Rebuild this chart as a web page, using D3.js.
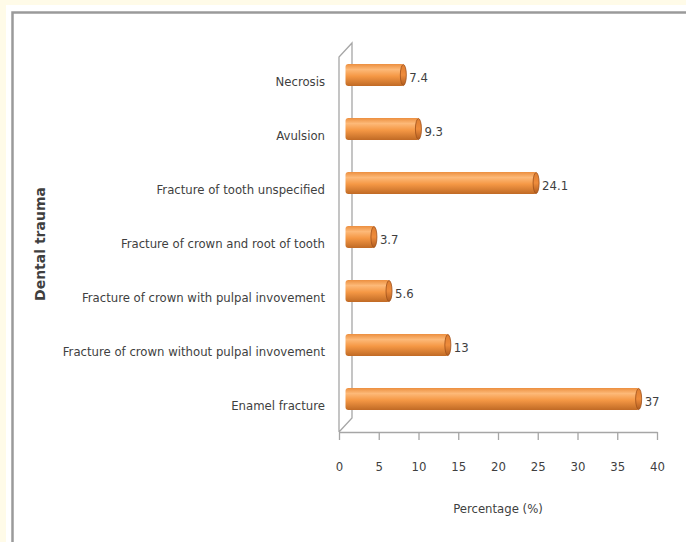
<!DOCTYPE html>
<html>
<head>
<meta charset="utf-8">
<script src="https://cdn.jsdelivr.net/npm/d3@7"></script>
<style>
  body { margin: 0; background: #fffbe8; }
  svg text { fill: #3f3f3f; font-family: "DejaVu Sans Condensed", "Liberation Sans Narrow", sans-serif; }
</style>
</head>
<body>
<div id="chart"></div>
<script>
// data, top to bottom as in the picture
var categories = ["Necrosis", "Avulsion", "Fracture of tooth unspecified ",
  "Fracture of crown and root of tooth", "Fracture of crown with pulpal invovement",
  "Fracture of crown without pulpal invovement", "Enamel fracture"];
var values = [7.4, 9.3, 24.1, 3.7, 5.6, 13, 37];
var xTicks = [0, 5, 10, 15, 20, 25, 30, 35, 40];

var W = 686, H = 542;
var svg = d3.select("#chart").append("svg")
  .attr("width", W).attr("height", H);

// panel
svg.append("rect").attr("x", 6).attr("y", 5).attr("width", W).attr("height", H)
  .attr("fill", "#ffffff");
svg.append("path").attr("d", "M12.5," + H + "V12.5H" + W)
  .attr("fill", "none").attr("stroke", "#9a9a9a").attr("stroke-width", 2.5);

var defs = svg.append("defs");
var grad = defs.append("linearGradient").attr("id", "barGrad")
  .attr("x1", 0).attr("y1", 0).attr("x2", 0).attr("y2", 1);
grad.append("stop").attr("offset", "0%").attr("stop-color", "#ec8f3f");
grad.append("stop").attr("offset", "25%").attr("stop-color", "#fdb978");
grad.append("stop").attr("offset", "55%").attr("stop-color", "#f59845");
grad.append("stop").attr("offset", "100%").attr("stop-color", "#c06a25");
var capGrad = defs.append("linearGradient").attr("id", "capGrad")
  .attr("x1", 0).attr("y1", 0).attr("x2", 0).attr("y2", 1);
capGrad.append("stop").attr("offset", "0%").attr("stop-color", "#df7e30");
capGrad.append("stop").attr("offset", "50%").attr("stop-color", "#ee8c3c");
capGrad.append("stop").attr("offset", "100%").attr("stop-color", "#b05c1e");

var x = d3.scaleLinear().domain([0, 40]).range([339, 657]);
var y = d3.scaleBand().domain(categories).range([55, 433]);
var depthX = 13, depthY = -14;
var barH = 22;

// side wall (3d)
var x0 = x(0), yTop = 57, yBot = 432;
svg.append("path")
  .attr("d", "M" + x0 + "," + yBot + "V" + yTop + "L" + (x0 + depthX) + "," + (yTop + depthY) +
    "V" + (yBot + depthY) + "L" + x0 + "," + yBot)
  .attr("fill", "none").attr("stroke", "#a6a6a6").attr("stroke-width", 1.3);

// x axis
var xAxis = svg.append("g")
  .attr("transform", "translate(0," + yBot + ")")
  .call(d3.axisBottom(x).tickValues(xTicks).tickSize(8).tickSizeOuter(0).tickPadding(22));
xAxis.selectAll("line, path").attr("stroke", "#a6a6a6").attr("stroke-width", 1.3);
xAxis.selectAll("text").style("font-size", "13px").attr("fill", "#3f3f3f");

// category labels
var yAxis = svg.append("g")
  .attr("transform", "translate(" + x0 + ",0)")
  .call(d3.axisLeft(y).tickSize(0).tickPadding(14));
yAxis.select(".domain").remove();
yAxis.selectAll("text").style("font-size", "13px").attr("fill", "#3f3f3f");

// bars as cylinders
var bars = svg.append("g").selectAll("g").data(values).enter().append("g")
  .attr("transform", function(d, i) {
    return "translate(" + (depthX / 2) + "," + (y(categories[i]) + y.bandwidth() / 2 + depthY / 2 - barH / 2) + ")";
  });
bars.append("rect")
  .attr("x", function(d) { return x(0); })
  .attr("width", function(d) { return x(d) - x(0); })
  .attr("height", barH)
  .attr("rx", 3)
  .attr("fill", "url(#barGrad)");
bars.append("ellipse")
  .attr("cx", function(d) { return x(d) - 1; })
  .attr("cy", barH / 2)
  .attr("rx", 3).attr("ry", barH / 2 - 0.5)
  .attr("fill", "url(#capGrad)")
  .attr("stroke", "#a0501a").attr("stroke-width", 0.8);

// value labels
bars.append("text")
  .attr("x", function(d) { return x(d) + 5; })
  .attr("y", barH / 2 + 2)
  .attr("dy", "0.35em")
  .style("font-size", "13px")
  .text(function(d) { return d; });

// axis titles
svg.append("text")
  .attr("x", 498).attr("y", 513)
  .attr("text-anchor", "middle")
  .style("font-size", "13px")
  .text("Percentage (%)");
svg.append("text")
  .attr("transform", "translate(45,244) rotate(-90)")
  .attr("text-anchor", "middle")
  .style("font-size", "14px").style("font-weight", "bold")
  .style("font-family", "'DejaVu Sans', sans-serif")
  .text("Dental trauma");
</script>
</body>
</html>
